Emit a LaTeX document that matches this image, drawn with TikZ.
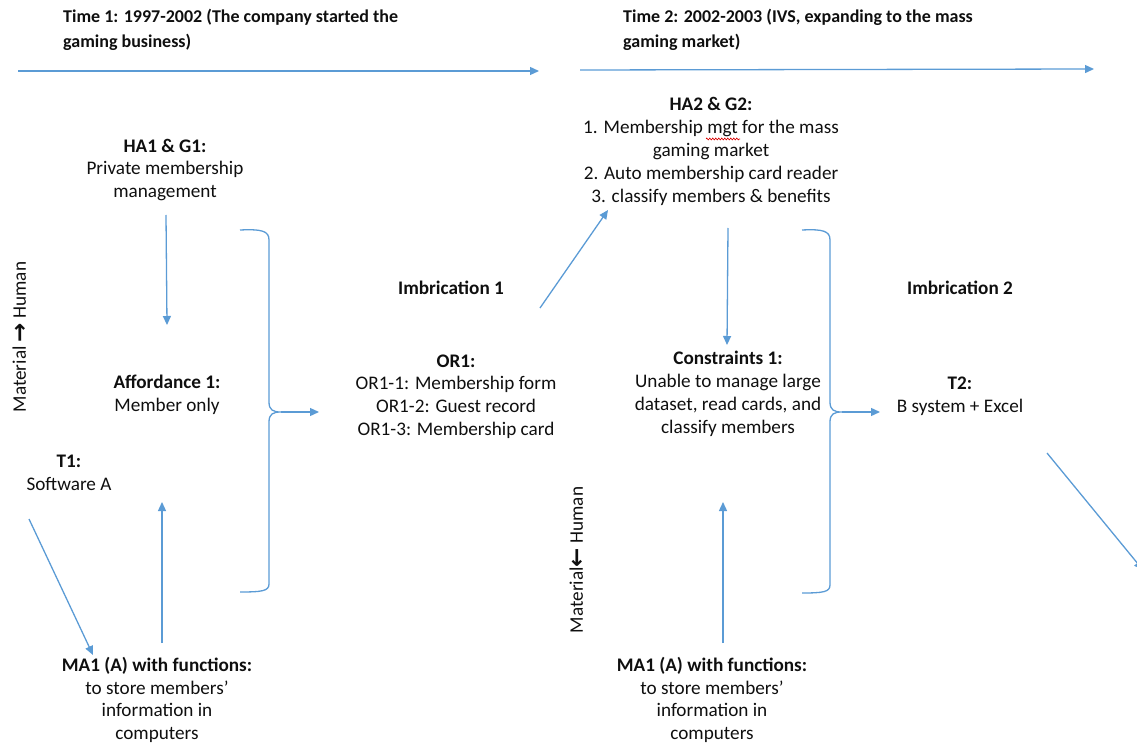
\documentclass[tikz,border=0pt]{standalone}
\usepackage{fontspec}
\setmainfont{Carlito}
\newfontfamily\arrowfont{DejaVu Sans}
\usetikzlibrary{arrows.meta,decorations.pathmorphing}
\definecolor{lineblue}{RGB}{91,155,213}
\definecolor{txt}{RGB}{15,15,15}
\newcommand{\bigarr}[1]{\raisebox{-1.5pt}{\arrowfont\bfseries\fontsize{23}{23}\selectfont #1}}
\tikzset{
  lbl/.style={font=\fontsize{19.2}{22.8}\selectfont, align=center, inner sep=0pt, text=txt},
  hdr/.style={font=\fontsize{18}{25}\selectfont\bfseries, align=left, inner sep=0pt, anchor=west, text=txt},
  conn/.style={draw=lineblue, line width=1.3pt, -{Triangle[length=9pt,width=8pt]}},
  bracel/.style={draw=lineblue, line width=1.3pt},
}
\begin{document}
\begin{tikzpicture}[x=1pt,y=-1pt]
\useasboundingbox (0,0) rectangle (1137,743);
\clip (0,0) rectangle (1137,743);

% headers and timelines
\node[hdr] (time1) at (63,30) {Time 1: 1997-2002 (The company started the\\gaming business)};
\node[hdr] (time2) at (623,30) {Time 2: 2002-2003 (IVS, expanding to the mass\\gaming market)};
\coordinate (t1s) at (18,71);  \coordinate (t1e) at (539,71);
\coordinate (t2s) at (580,70); \coordinate (t2e) at (1094,69);
\draw[conn] (t1s) -- (t1e);
\draw[conn] (t2s) -- (t2e);

% left part
\node[lbl] (ha1) at (165,170) {\textbf{HA1 \& G1:}\\Private membership\\management};
\node[lbl] (aff1) at (167,394.5) {\textbf{Affordance 1:}\\Member only};
\node[lbl] (t1) at (69,472.5) {\textbf{T1:}\\Software A};
\node[lbl] (ma1) at (157,700) {\textbf{MA1 (A) with functions:}\\to store members’\\information in\\computers};
\node[lbl, rotate=90] (mh1) at (20,337) {Material \bigarr{→} Human};

\coordinate (a1s) at (166,215); \coordinate (a1e) at (167,325);
\draw[conn] (a1s) -- (a1e);
\coordinate (a2s) at (162,643); \coordinate (a2e) at (162,502);
\draw[conn] (a2s) -- (a2e);
\coordinate (a3s) at (29,519); \coordinate (a3e) at (93,655);
\draw[conn] (a3s) -- (a3e);

% brace 1
\coordinate (b1top) at (240,230);
\coordinate (b1tip) at (281,412);
\coordinate (b1bot) at (240,592);
\coordinate (b1arr) at (319,412);
\draw[bracel] (b1top) .. controls (262,229) and (269,231) .. (269,240)
  -- (269,402) .. controls (269,410) and (273,412) .. (b1tip)
  .. controls (273,412) and (269,414) .. (269,422)
  -- (269,584) .. controls (269,591) and (262,592) .. (b1bot);
\draw[conn] (b1tip) -- (b1arr);

% middle
\node[lbl, font=\fontsize{19.2}{22.8}\selectfont\bfseries] (imb1) at (451,288) {Imbrication 1};
\node[lbl] (or1) at (456,396.5) {\textbf{OR1:}\\OR1-1: Membership form\\OR1-2: Guest record\\OR1-3: Membership card};
\coordinate (a4s) at (540,308); \coordinate (a4e) at (608,210);
\draw[conn] (a4s) -- (a4e);

% right part
\node[lbl] (ha2) at (711,151.5) {\textbf{HA2 \& G2:}\\1. Membership mgt for the mass\\gaming market\\2. Auto membership card reader\\3. classify members \& benefits};
\draw[red!85!black, line width=0.6pt, decorate, decoration={zigzag, segment length=3pt, amplitude=1pt}] (706,139) -- (740,139);
\node[lbl] (con1) at (728,394) {\textbf{Constraints 1:}\\Unable to manage large\\dataset, read cards, and\\classify members};
\node[lbl] (ma2) at (712,700) {\textbf{MA1 (A) with functions:}\\to store members’\\information in\\computers};
\node[lbl, rotate=90] (mh2) at (577,560) {Material\bigarr{←} Human};

\coordinate (a5s) at (728,228); \coordinate (a5e) at (727,345);
\draw[conn] (a5s) -- (a5e);
\coordinate (a6s) at (723,643); \coordinate (a6e) at (723,502);
\draw[conn] (a6s) -- (a6e);

% brace 2
\coordinate (b2top) at (802,230);
\coordinate (b2tip) at (842,412);
\coordinate (b2bot) at (802,593);
\coordinate (b2arr) at (880,412);
\draw[bracel] (b2top) .. controls (823,229) and (830,231) .. (830,240)
  -- (830,402) .. controls (830,410) and (834,412) .. (b2tip)
  .. controls (834,412) and (830,414) .. (830,422)
  -- (830,585) .. controls (830,592) and (823,593) .. (b2bot);
\draw[conn] (b2tip) -- (b2arr);

\node[lbl, font=\fontsize{19.2}{22.8}\selectfont\bfseries] (imb2) at (960,288) {Imbrication 2};
\node[lbl] (t2) at (960,396.5) {\textbf{T2:}\\B system + Excel};
\coordinate (a7s) at (1047,453); \coordinate (a7e) at (1143,570);
\draw[conn] (a7s) -- (a7e);
\end{tikzpicture}
\end{document}
